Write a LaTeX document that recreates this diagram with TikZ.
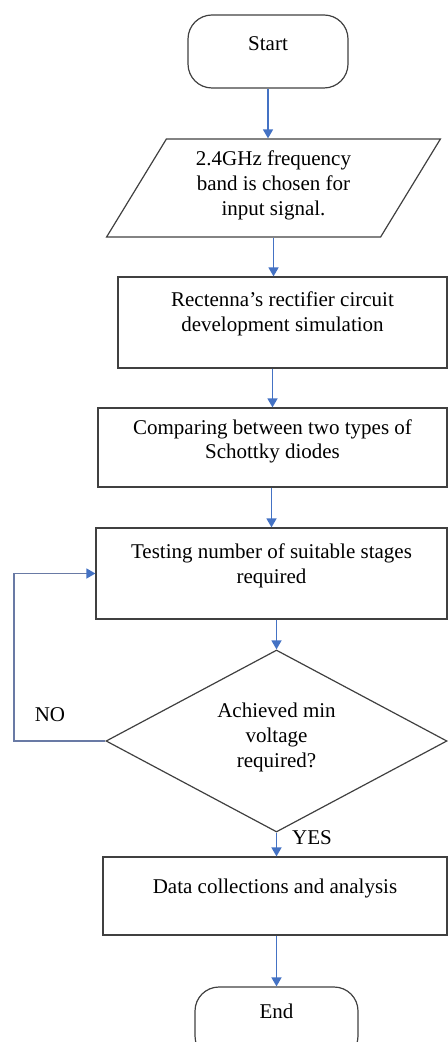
\documentclass[tikz,border=0pt]{standalone}
\usepackage{fontspec}
\setmainfont{Liberation Serif}
\usepackage{tikz}
\usetikzlibrary{positioning}
\usetikzlibrary{shapes.geometric, arrows.meta}

\definecolor{arrowblue}{RGB}{68,114,196}
\definecolor{loopgray}{RGB}{105,122,165}
\newcommand{\lifted}[2][4pt]{\raisebox{#1}[\height][\depth]{\begin{tabular}{@{}c@{}}#2\end{tabular}}}

\begin{document}
\begin{tikzpicture}[x=0.5pt, y=-0.5pt,
        every node/.style = {font=\fontsize{10.5}{12.5}\selectfont, inner sep=0pt, align=center},
        term/.style = {draw=black!75, line width=0.6pt, rectangle, rounded corners=12pt, minimum width=80pt, minimum height=36.5pt},
        inbox/.style = {draw=black!75, line width=0.6pt, trapezium, trapezium left angle=60, trapezium right angle=120, trapezium stretches=true, minimum width=167pt, minimum height=49pt},
        stepbox/.style = {draw=black!75, line width=0.6pt, rectangle},
        check/.style = {draw=black!75, line width=0.6pt, diamond, aspect=1.9, minimum width=170.5pt, minimum height=91pt},
        arrow/.style = {draw=arrowblue, line width=0.75pt, -{Triangle[length=4.5pt, width=5pt]}}]
            \clip (0,0) rectangle (448,1042);
            \node[term](start) at (268,51.5){\lifted[3pt]{Start}};
            \node[inbox](in) at (273.5,188){\lifted[1pt]{2.4GHz frequency\\band is chosen for\\input signal.}};
            \node[stepbox, minimum width=164.5pt, minimum height=45.5pt](sim) at (282.5,322.5){\lifted{Rectenna’s rectifier circuit\\development simulation}};
            \node[stepbox, minimum width=174.5pt, minimum height=39.5pt](cmp) at (272.5,447.5){\lifted[3pt]{Comparing between two types of\\Schottky diodes}};
            \node[stepbox, minimum width=175.5pt, minimum height=45.5pt](test) at (271.5,573.5){\lifted{Testing number of suitable stages\\required}};
            \node[check](ok) at (276.5,741){\lifted[2pt]{Achieved min\\voltage\\required?}};
            \node[stepbox, minimum width=172pt, minimum height=39pt](data) at (275,896){\lifted{Data collections and analysis}};
            \node[term, minimum width=81.5pt](end) at (276.5,1023.5){\lifted[5pt]{End}};
            \coordinate (back) at (14,0);
            \node(no) at (50,715){NO};
            \node(yes) at (312,838){YES};
            \draw[arrow] (start.south) -- (start.south |- in.north);
            \draw[arrow] (in.south) -- (in.south |- sim.north);
            \draw[arrow] (cmp.north |- sim.south) -- (cmp.north);
            \draw[arrow] (test.north |- cmp.south) -- (test.north);
            \draw[arrow] (ok.north |- test.south) -- (ok.north);
            \draw[arrow] (ok.south) -- (ok.south |- data.north);
            \draw[arrow] (end.north |- data.south) -- (end.north);
            \draw[arrow, draw=loopgray, -{Triangle[length=4.5pt, width=5pt, color=arrowblue]}] (ok.west) -- (ok.west -| back) |- (test.west);
        \end{tikzpicture}
\end{document}
